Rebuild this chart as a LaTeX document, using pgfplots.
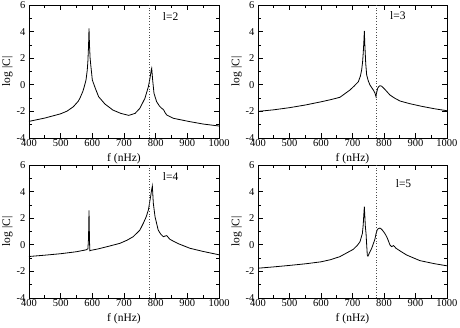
\documentclass[border=0pt]{standalone}
\usepackage{fontspec}
\setmainfont{Liberation Serif}
\usepackage{pgfplots}
\pgfplotsset{compat=1.18}
\pgfplotsset{panel/.style={
  scale only axis, height=133pt,
  xmin=400, xmax=1000, ymin=-4, ymax=6,
  xtick={400,500,...,1000}, ytick={-4,-2,...,6},
  minor x tick num=1, minor y tick num=1,
  tick align=inside, major tick length=5pt, minor tick length=3pt,
  axis line style={line width=0.8pt}, every tick/.style={line width=0.7pt, black},
  tick label style={font=\fontsize{10.5}{11}\selectfont},
  xticklabel style={inner sep=1.5pt},
  /pgf/number format/assume math mode=true,
  /pgf/number format/1000 sep={},
  xlabel={f (nHz)}, ylabel={log |C|},
  label style={font=\fontsize{11.5}{12}\selectfont},
  xlabel style={at={(axis description cs:0.5,0)}, anchor=center, yshift=-20.5pt},
  ylabel style={at={([xshift=-21.5pt]axis description cs:0,0.5)}, anchor=center},
  clip=true,
}}
\begin{document}
\begin{tikzpicture}
\useasboundingbox (0,0) rectangle (460pt,327pt);
% l=2
\begin{axis}[panel, width=190pt, at={(29pt,189pt)}, anchor=south west]
\addplot[black, line width=0.8pt] coordinates {
(400,-2.75)(450,-2.5)(500,-2.18)(520,-1.98)(540,-1.65)(555,-1.25)(560,-1.05)(570,-0.5)(575,-0.1)(580,0.36)(584,1.1)(586,1.8)(588,2.9)(589.5,4.25)(591,3.0)(593,2.0)(595,1.5)(600,0.36)(610,-0.3)(620,-0.9)(640,-1.45)(665,-1.9)(690,-2.15)(715,-2.3)(735,-2.15)(750,-1.77)(766,-1.02)(777,-0.14)(782,0.49)(786,1.1)(787.5,1.24)(790.5,0.36)(794.7,-0.64)(803,-1.27)(812,-1.6)(819,-1.77)(823,-1.83)(826,-1.92)(830,-2.1)(835,-2.27)(856,-2.52)(908,-2.77)(950,-2.95)(1000,-3.1)
};
\addplot[black!70, dotted, line width=0.7pt] coordinates {(780,-4)(780,6)};
\node[font=\fontsize{11.5}{12}\selectfont] at (axis description cs:0.745,0.913) {l=2};
\end{axis}
% l=3
\begin{axis}[panel, width=189pt, at={(258pt,189pt)}, anchor=south west]
\addplot[black, line width=0.8pt] coordinates {
(400,-2.0)(450,-1.88)(500,-1.72)(550,-1.52)(600,-1.28)(630,-1.12)(660,-0.94)(692,-0.39)(705,-0.1)(718.5,0.23)(725,0.65)(729,1.11)(732,1.7)(734,2.37)(736,3.2)(737.6,4.05)(739,3.1)(742,1.6)(745,0.74)(750,0.3)(755.6,-0.02)(766,-0.39)(771,-0.6)(774.6,-0.89)(777,-0.55)(780,-0.26)(784,-0.12)(787,-0.07)(792,-0.1)(797.8,-0.22)(808,-0.48)(819,-0.77)(835,-1.02)(851,-1.22)(882,-1.42)(920,-1.62)(960,-1.8)(1000,-1.95)
};
\addplot[black!70, dotted, line width=0.7pt] coordinates {(777,-4)(777,6)};
\node[font=\fontsize{11.5}{12}\selectfont] at (axis description cs:0.74,0.917) {l=3};
\end{axis}
% l=4
\begin{axis}[panel, width=190pt, at={(29pt,29pt)}, anchor=south west]
\addplot[black, line width=0.8pt] coordinates {
(400,-0.88)(450,-0.78)(500,-0.67)(550,-0.52)(580,-0.38)(586,-0.3)(588,0.5)(589.5,2.59)(591,0.4)(592,-0.45)(595,-0.42)(620,-0.3)(650,-0.12)(687,0.11)(710,0.35)(729,0.61)(750,1.1)(761,1.62)(770,2.1)(777,2.62)(784,3.62)(787,4.1)(789.5,4.42)(792.6,3.12)(798,2.11)(808,1.11)(816,0.8)(824,0.61)(830,0.66)(835,0.69)(845,0.41)(870,0.1)(908,-0.26)(950,-0.5)(1000,-0.75)
};
\addplot[black!70, dotted, line width=0.7pt] coordinates {(781,-4)(781,6)};
\node[font=\fontsize{11.5}{12}\selectfont] at (axis description cs:0.745,0.913) {l=4};
\end{axis}
% l=5
\begin{axis}[panel, width=189pt, at={(258pt,29pt)}, anchor=south west]
\addplot[black, line width=0.8pt] coordinates {
(400,-1.76)(450,-1.66)(500,-1.55)(550,-1.43)(600,-1.28)(630,-1.12)(660,-0.89)(702.6,-0.34)(715,-0.05)(723.8,0.23)(731.4,0.86)(734,1.5)(736,2.3)(737.6,2.86)(739.5,2.0)(741,1.3)(743,0.86)(745,0.0)(747,-0.77)(749,-0.85)(754,-0.6)(761,-0.26)(771,0.41)(775,0.86)(779,1.16)(783,1.22)(787,1.26)(791,1.2)(795,1.1)(802,0.88)(808.5,0.61)(814,0.3)(819,-0.02)(824.6,-0.14)(829.6,-0.06)(833,-0.12)(838,-0.26)(855,-0.52)(872,-0.77)(914,-1.19)(960,-1.42)(1000,-1.58)
};
\addplot[black!70, dotted, line width=0.7pt] coordinates {(777,-4)(777,6)};
\node[font=\fontsize{11.5}{12}\selectfont] at (axis description cs:0.77,0.862) {l=5};
\end{axis}
\end{tikzpicture}
\end{document}
